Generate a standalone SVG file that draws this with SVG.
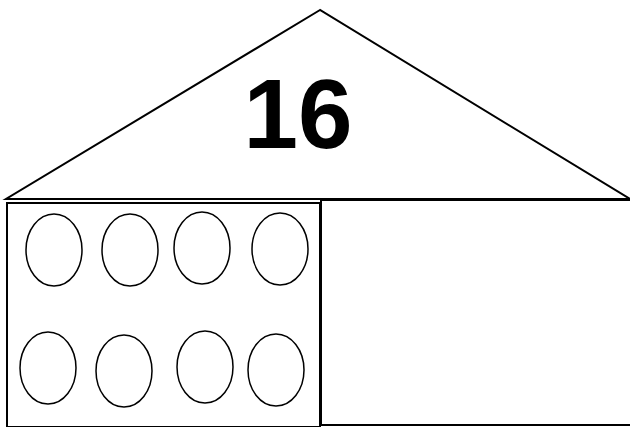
<svg xmlns="http://www.w3.org/2000/svg" width="630" height="427" viewBox="0 0 630 427">
<style>
.l{fill:none;stroke:#000;stroke-width:2}
.o{fill:none;stroke:#000;stroke-width:1.5}
.t{font-family:"Liberation Sans",Arial,sans-serif;font-weight:bold;font-size:98px;fill:#000}
</style>
<rect width="630" height="427" fill="#fff"/>
<g id="roof">
<polygon class="l" points="320,10 6,199 630,199"/>
<text class="t" x="298" y="148" text-anchor="middle">16</text>
</g>
<g id="left">
<rect class="l" x="7" y="203" width="313" height="224" stroke-width="3"/>
<ellipse class="o" cx="54" cy="250" rx="28" ry="36"/>
<ellipse class="o" cx="130" cy="250" rx="28" ry="36"/>
<ellipse class="o" cx="202" cy="248" rx="28" ry="36"/>
<ellipse class="o" cx="280" cy="249" rx="28" ry="36"/>
<ellipse class="o" cx="48" cy="368" rx="28" ry="36"/>
<ellipse class="o" cx="124" cy="371" rx="28" ry="36"/>
<ellipse class="o" cx="205" cy="367" rx="28" ry="36"/>
<ellipse class="o" cx="276" cy="370" rx="28" ry="36"/>
</g>
<g id="right">
<polyline class="l" points="320,200 630,200" stroke-width="4"/>
<polyline class="l" points="321,200 321,425 630,425" stroke-width="3"/>
</g>
</svg>
